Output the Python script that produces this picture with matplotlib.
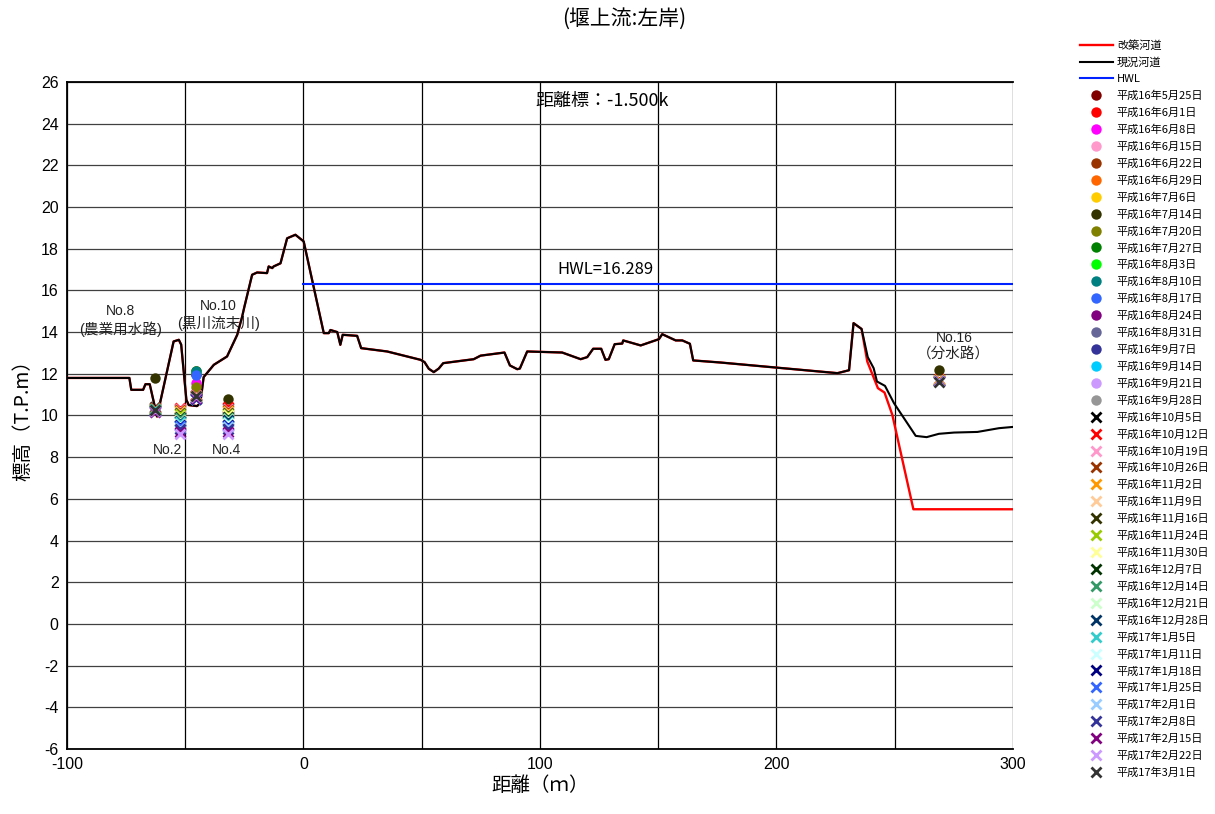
import numpy as np
import matplotlib
matplotlib.use("Agg")
import matplotlib.pyplot as plt

plt.rcParams['font.family'] = ['Liberation Sans', 'Noto Sans CJK JP', 'DejaVu Sans']
plt.rcParams['axes.unicode_minus'] = False
CJK = ['Noto Sans CJK JP', 'DejaVu Sans']

nan = np.nan

# ---- cross-section profile (distance m, elevation T.P.m) ----
ground_x = [-100, -73.6, -72.8, -67.8, -66.8, -65.0, -61.9, -54.9, -52.7, -51.7,
            -49.5, -48.5, -45.0, -43.6, -42.2, -37.9, -32.3, -28.0, -25.9, -25.0,
            -21.7, -19.6, -15.4, -14.7, -13.2, -12.6, -9.7, -6.9, -3.4, 0.1,
            8.6, 10.7, 11.4, 14.3, 15.6, 16.6, 22.7, 24.4, 35.4, 49.5,
            51.2, 53.0, 55.1, 57.2, 59.1, 72.0, 74.9, 85.0, 87.3, 90.4,
            91.5, 94.6, 109.4, 117.2, 120.0, 122.5, 125.9, 127.7, 129.1, 131.6,
            134.8, 135.2, 142.6, 150.3, 151.7, 157.4, 160.2, 163.4, 164.8, 176.4,
            225.8, 230.7, 232.6, 236.0, 238.6, 241.1, 242.5, 245.9, 249.7, 258.9,
            263.5, 268.7, 275.1, 285.0, 294.1, 300.0]
ground_z = [11.8, 11.8, 11.23, 11.23, 11.5, 11.5, 9.95, 13.55, 13.63, 13.4,
            10.75, 10.5, 10.45, 10.6, 11.84, 12.43, 12.83, 13.87, 14.75, 15.2,
            16.75, 16.86, 16.83, 17.15, 17.07, 17.15, 17.3, 18.5, 18.67, 18.35,
            13.95, 13.95, 14.1, 14.0, 13.39, 13.87, 13.82, 13.23, 13.07, 12.67,
            12.56, 12.24, 12.08, 12.25, 12.51, 12.7, 12.87, 13.02, 12.4, 12.22,
            12.25, 13.07, 13.02, 12.7, 12.8, 13.2, 13.2, 12.67, 12.7, 13.42,
            13.45, 13.6, 13.36, 13.66, 13.9, 13.6, 13.6, 13.44, 12.64, 12.54,
            12.03, 12.17, 14.43, 14.15, 12.8, 12.27, 11.63, 11.42, 10.59, 9.02,
            8.96, 9.12, 9.18, 9.21, 9.39, 9.45]

# planned section departs from the existing one downstream of 236 m
plan_tail_x = [238.4, 242.9, 245.7, 249.0, 257.9, 300.0]
plan_tail_z = [12.59, 11.31, 11.1, 10.03, 5.5, 5.5]
n_common = ground_x.index(236.0) + 1
plan_x = ground_x[:n_common] + plan_tail_x
plan_z = ground_z[:n_common] + plan_tail_z

hwl = 16.289
hwl_start, hwl_end = 0, 300

# ---- water level observation points ----
station_names = ['No.8', 'No.2', 'No.10', 'No.4', 'No.16']
station_x = [-62.6, -52.0, -45.3, -32.1, 268.6]

circle_dates = ['平成16年5月25日', '平成16年6月1日', '平成16年6月8日', '平成16年6月15日',
                '平成16年6月22日', '平成16年6月29日', '平成16年7月6日', '平成16年7月14日',
                '平成16年7月20日', '平成16年7月27日', '平成16年8月3日', '平成16年8月10日',
                '平成16年8月17日', '平成16年8月24日', '平成16年8月31日', '平成16年9月7日',
                '平成16年9月14日', '平成16年9月21日', '平成16年9月28日']
cross_dates = ['平成16年10月5日', '平成16年10月12日', '平成16年10月19日', '平成16年10月26日',
               '平成16年11月2日', '平成16年11月9日', '平成16年11月16日', '平成16年11月24日',
               '平成16年11月30日', '平成16年12月7日', '平成16年12月14日', '平成16年12月21日',
               '平成16年12月28日', '平成17年1月5日', '平成17年1月11日', '平成17年1月18日',
               '平成17年1月25日', '平成17年2月1日', '平成17年2月8日', '平成17年2月15日',
               '平成17年2月22日', '平成17年3月1日']

# water levels per station, one value per date (nan = not observed)
no8_circle = [nan] * 7 + [11.8] + [nan] * 11
no2_circle = [nan] * 19
no10_circle = [12.1, 12.0, 11.55, 12.1, 12.1, 12.15, 12.15, 12.0, 11.36, 12.15,
               12.1, 12.12, 11.95, nan, nan, nan, nan, nan, nan]
no4_circle = [nan] * 7 + [10.78] + [nan] * 11
no16_circle = [nan] * 7 + [12.19] + [nan] * 11

no8_cross = [10.4, 10.38, 10.36, 10.35, 10.33, 10.32, 10.3, 10.3, 10.28, 10.27, 10.26,
             10.25, 10.24, 10.3, 10.22, 10.2, 10.2, 10.18, 10.2, 10.18, 10.2, 10.25]
no2_cross = [10.33, 10.36, 10.3, 10.25, 10.2, 10.15, 10.1, 10.05, 9.98, 9.93, 9.87,
             9.8, 9.75, 9.68, 9.6, 9.55, 9.48, 9.4, 9.33, 9.2, 9.1, nan]
no10_cross = [11.0, 10.98, 10.96, 10.95, 10.93, 10.92, 10.9, 10.9, 10.88, 10.86, 10.85,
              10.84, 10.83, 10.82, 10.8, 10.8, 10.78, 10.78, 10.8, 10.85, 10.9, 10.95]
no4_cross = [10.36, 10.4, 10.33, 10.27, 10.22, 10.17, 10.12, 10.06, 10.0, 9.95, 9.88,
             9.82, 9.76, 9.7, 9.62, 9.56, 9.5, 9.43, 9.35, 9.22, 9.12, nan]
no16_cross = [11.7, 11.75, 11.7, 11.68, 11.7, 11.68, 11.66, 11.68, 11.66, 11.65, 11.66,
              11.64, 11.65, 11.66, 11.64, 11.65, 11.63, 11.64, 11.63, 11.64, 11.63, 11.62]

circle_colors = ['#800000', '#FF0000', '#FF00FF', '#FF99CC', '#993300', '#FF6600',
                 '#FFCC00', '#333300', '#808000', '#008000', '#00FF00', '#008080',
                 '#3366FF', '#800080', '#666699', '#333399', '#00CCFF', '#CC99FF',
                 '#969696']
cross_colors = ['#000000', '#FF0000', '#FF99CC', '#993300', '#FF9900', '#FFCC99',
                '#333300', '#99CC00', '#FFFF99', '#003300', '#339966', '#CCFFCC',
                '#003366', '#33CCCC', '#CCFFFF', '#000080', '#3366FF', '#99CCFF',
                '#333399', '#800080', '#CC99FF', '#333333']

# ---- figure ----
fig = plt.figure(figsize=(12.15, 8.14), dpi=100)
ax = fig.add_axes([0.0551, 0.0799, 0.7786, 0.8194])

ax.set_xlim(-100, 300)
ax.set_ylim(-6, 26)
ax.set_xticks(np.arange(-100, 301, 100))
ax.set_xticks(np.arange(-50, 301, 100), minor=True)
ax.set_yticks(np.arange(-6, 27, 2))
ax.grid(True, which='major', axis='y', color='#404040', lw=0.9)
ax.grid(True, which='both', axis='x', color='black', lw=0.9)
ax.tick_params(axis='both', which='both', length=0, labelsize=11.5, pad=6)
for side in ['left', 'bottom', 'top']:
    ax.spines[side].set_linewidth(1.3)
ax.spines['right'].set_visible(False)
ax.set_axisbelow(True)

l_plan, = ax.plot(plan_x, plan_z, color='#FF0000', lw=1.7, label='改築河道', zorder=3)
l_now, = ax.plot(ground_x, ground_z, color='black', lw=1.5, label='現況河道', zorder=4)
l_hwl, = ax.plot([hwl_start, hwl_end], [hwl, hwl], color='#0022FF', lw=1.5,
                 label='HWL', zorder=4)

circle_table = [no8_circle, no2_circle, no10_circle, no4_circle, no16_circle]
cross_table = [no8_cross, no2_cross, no10_cross, no4_cross, no16_cross]

handles = [l_plan, l_now, l_hwl]
for i, (d, c) in enumerate(zip(circle_dates, circle_colors)):
    vals = [col[i] for col in circle_table]
    h, = ax.plot(station_x, vals, ls='none', marker='o', ms=7.5, mfc=c, mec=c,
                 mew=0, label=d, zorder=5)
    handles.append(h)
for i, (d, c) in enumerate(zip(cross_dates, cross_colors)):
    vals = [col[i] for col in cross_table]
    h, = ax.plot(station_x, vals, ls='none', marker='x', ms=6.5, mec=c, mew=2.0,
                 label=d, zorder=6)
    handles.append(h)

# station annotations
ax.text(-77.4, 15.0, 'No.8', ha='center', va='center', fontsize=10, color='#222222')
ax.text(-77.4, 14.15, '(農業用水路)', ha='center', va='center', fontsize=10.5,
        color='#222222')
ax.text(-36.0, 15.25, 'No.10', ha='center', va='center', fontsize=10, color='#222222')
ax.text(-36.0, 14.4, '(黒川流末川)', ha='center', va='center', fontsize=10.5,
        color='#222222')
ax.text(-57.3, 8.35, 'No.2', ha='center', va='center', fontsize=10, color='#222222')
ax.text(-32.6, 8.35, 'No.4', ha='center', va='center', fontsize=10, color='#222222')
ax.text(275.0, 13.7, 'No.16', ha='center', va='center', fontsize=10, color='#222222')
ax.text(275.0, 12.9, '（分水路）', ha='center', va='center', fontsize=10.5,
        family=CJK, color='#222222')

ax.text(127.7, 17.0, f'HWL={hwl:.3f}', ha='center', va='center', fontsize=12,
        family=CJK)
ax.text(126.5, 25.1, '距離標：-1.500k', ha='center', va='center', fontsize=13,
        family=CJK)

ax.set_xlabel('距離（ｍ）', fontsize=14, family=CJK, labelpad=2)
ax.set_ylabel('標高（T.P.m）', fontsize=14, family=CJK, labelpad=5)

fig.text(0.514, 0.977, '(堰上流:左岸)', ha='center', va='center', fontsize=15,
         family=CJK)

fig.legend(handles=handles, loc='upper left', bbox_to_anchor=(0.8886, 0.951),
           frameon=False, handlelength=3.0, handletextpad=0.35,
           labelspacing=0.575, borderaxespad=0, borderpad=0,
           prop={'family': CJK, 'size': 8})

fig.savefig('out.png', dpi=100)
